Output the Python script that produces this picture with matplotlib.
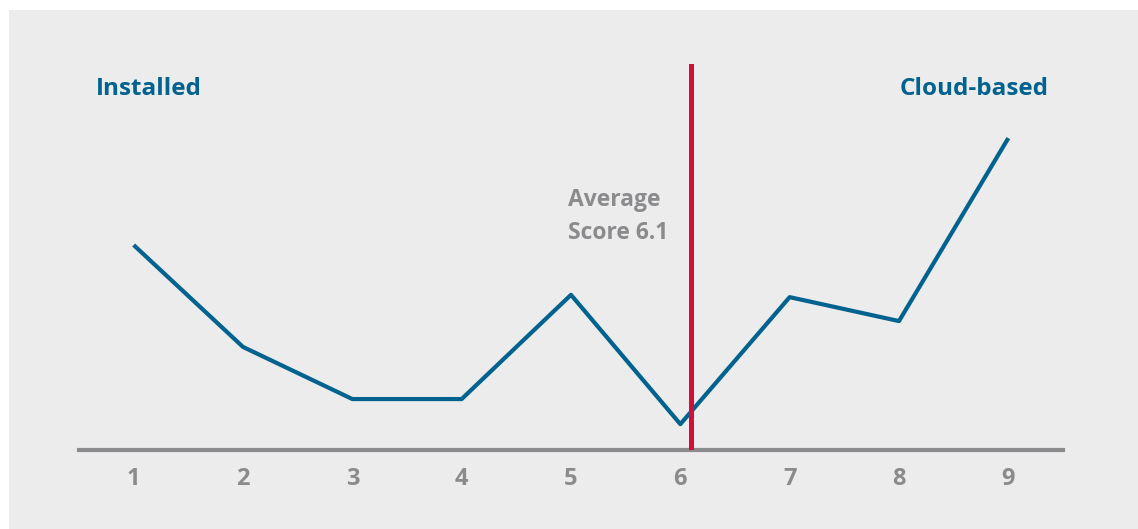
import matplotlib.pyplot as plt
from matplotlib.patches import Rectangle

# --------------------
# Data
# --------------------
scores = [1, 2, 3, 4, 5, 6, 7, 8, 9]
values = [5.31, 2.67, 1.32, 1.32, 4.02, 0.67, 3.96, 3.34, 8.08]
average_score = 6.1

blue = "#00628f"
red = "#d0103a"
grey = "#8b8b8e"
panel = "#ececec"

plt.rcParams['font.family'] = ['Open Sans', 'DejaVu Sans']

fig = plt.figure(figsize=(11.38, 5.29), dpi=100)
fig.patch.set_facecolor("white")

# grey panel behind the chart
fig.patches.append(Rectangle((9 / 1138, 0), 1, 1 - 10 / 529,
                             transform=fig.transFigure, facecolor=panel,
                             edgecolor="none", zorder=-10))

ax = fig.add_axes([79 / 1138, 79 / 529, 984 / 1138, 386 / 529])
ax.set_facecolor("none")

ax.plot(scores, values, color=blue, linewidth=3, solid_joinstyle="round",
        solid_capstyle="butt", zorder=2)
ax.axvline(average_score, color=red, linewidth=3.6, zorder=3)

ax.set_xlim(0.5, 9.5)
ax.set_ylim(0, 10)

for side in ["top", "right", "left"]:
    ax.spines[side].set_visible(False)
ax.spines["bottom"].set_color(grey)
ax.spines["bottom"].set_linewidth(3)
ax.spines["bottom"].set_zorder(1)

ax.set_xticks(scores)
ax.set_xticklabels([str(s) for s in scores], fontsize=17, fontweight="bold",
                   color=grey)
ax.tick_params(axis="x", length=0, pad=12)
ax.set_yticks([])

ax.text(0.655, 9.34, "Installed", fontsize=17.5, fontweight="bold",
        color=blue, ha="left", va="center")
ax.text(9.37, 9.34, "Cloud-based", fontsize=17.5, fontweight="bold",
        color=blue, ha="right", va="center")
ax.text(average_score - 0.21, 6.05, "Average\nScore 6.1", fontsize=16.5,
        fontweight="bold", color=grey, ha="right", va="center",
        linespacing=1.55, multialignment="left")

fig.savefig("out.png", dpi=100)
